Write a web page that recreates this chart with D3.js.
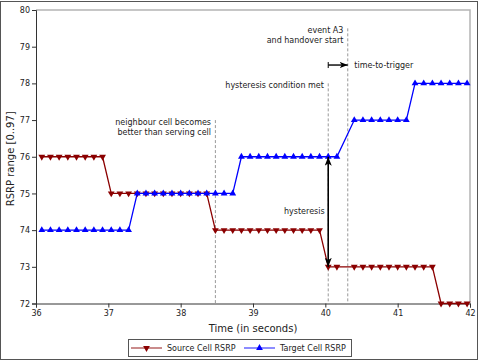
<!DOCTYPE html>
<html><head><meta http-equiv="Content-Type" content="text/html; charset=utf-8">
<script src="https://d3js.org/d3.v7.min.js"></script>
<style>
  body { margin: 0; background: #fff; }
  text { font-family: "DejaVu Sans", sans-serif; fill: #222; }
</style>
</head>
<body>
<div class="chart"></div>
<script type="text/javascript">

// sample times (s); the sample at 40.28 is absent in the source data
var times = [36.08, 36.20, 36.32, 36.44, 36.56, 36.68, 36.80, 36.92, 37.04, 37.16,
             37.28, 37.40, 37.52, 37.64, 37.76, 37.88, 38.00, 38.12, 38.24, 38.36,
             38.48, 38.60, 38.72, 38.84, 38.96, 39.08, 39.20, 39.32, 39.44, 39.56,
             39.68, 39.80, 39.92, 40.04, 40.16, 40.40, 40.52, 40.64, 40.76, 40.88,
             41.00, 41.12, 41.24, 41.36, 41.48, 41.60, 41.72, 41.84, 41.96];

var sourceRsrp = [76, 76, 76, 76, 76, 76, 76, 76, 75, 75,
                  75, 75, 75, 75, 75, 75, 75, 75, 75, 75,
                  74, 74, 74, 74, 74, 74, 74, 74, 74, 74,
                  74, 74, 74, 73, 73, 73, 73, 73, 73, 73,
                  73, 73, 73, 73, 73, 72, 72, 72, 72];

var targetRsrp = [74, 74, 74, 74, 74, 74, 74, 74, 74, 74,
                  74, 75, 75, 75, 75, 75, 75, 75, 75, 75,
                  75, 75, 75, 76, 76, 76, 76, 76, 76, 76,
                  76, 76, 76, 76, 76, 77, 77, 77, 77, 77,
                  77, 77, 78, 78, 78, 78, 78, 78, 78];

var xTicks = [36, 37, 38, 39, 40, 41, 42];
var yTicks = [72, 73, 74, 75, 76, 77, 78, 79, 80];

// event markers: time and top of the dashed line
var eventTimes = [38.48, 40.04, 40.31];
var eventTops  = [77, 78, 79.5];

var width = 480;
var height = 362;
var pLeft = 36, pRight = 470, pTop = 10, pBottom = 303.5;

var svg = d3.select("div.chart")
  .append("svg")
  .attr("width", width)
  .attr("height", height);

var x = d3.scaleLinear().domain([36, 42]).range([pLeft, pRight]);
var y = d3.scaleLinear().domain([72, 80]).range([pBottom, pTop]);

// outer frame of the picture
svg.append("rect")
  .attr("x", 0.5).attr("y", 1.5)
  .attr("width", 477).attr("height", 358)
  .style("fill", "none").style("stroke", "#555");

// gray top and right spines
svg.append("path")
  .attr("d", "M" + pLeft + "," + pTop + "H" + pRight + "V" + pBottom)
  .style("fill", "none").style("stroke", "#b4b4b4").style("stroke-width", 1.5);

// ----------------- AXES ------------------------------
var xAxis = svg.append("g")
  .attr("transform", "translate(0," + pBottom + ")")
  .call(d3.axisBottom(x).tickValues(xTicks).tickSize(4).tickPadding(3).tickFormat(d3.format("d")));

var yAxis = svg.append("g")
  .attr("transform", "translate(" + pLeft + ",0)")
  .call(d3.axisLeft(y).tickValues(yTicks).tickSize(4).tickPadding(2).tickFormat(d3.format("d")));

[xAxis, yAxis].forEach(function (a) {
  a.selectAll("path, line").style("stroke", "#333");
  a.selectAll("text").style("font-size", "8px").style("font-family", "DejaVu Sans").style("fill", "#222");
});

svg.append("text")
  .attr("x", (pLeft + pRight) / 2).attr("y", 332)
  .attr("text-anchor", "middle")
  .style("font-size", "10px")
  .text("Time (in seconds)");

svg.append("text")
  .attr("transform", "translate(14," + ((pTop + pBottom) / 2 + 2) + ")rotate(-90)")
  .attr("text-anchor", "middle")
  .style("font-size", "10px")
  .text("RSRP range [0..97]");

// ----------------- EVENT LINES ------------------------------
svg.selectAll("line.event")
  .data(eventTimes)
  .enter()
  .append("line")
  .attr("class", "event")
  .attr("x1", function (d) { return x(d); })
  .attr("x2", function (d) { return x(d); })
  .attr("y1", function (d, i) { return y(eventTops[i]); })
  .attr("y2", pBottom)
  .style("stroke", "#999")
  .style("stroke-width", 1)
  .style("stroke-dasharray", "3,2");

// ----------------- SERIES ------------------------------
var line = d3.line()
  .x(function (d) { return x(d[0]); })
  .y(function (d) { return y(d[1]); });

var sourcePts = times.map(function (t, i) { return [t, sourceRsrp[i]]; });
var targetPts = times.map(function (t, i) { return [t, targetRsrp[i]]; });

var tri = d3.symbol().type(d3.symbolTriangle).size(20);

function drawSeries(pts, color, flip) {
  svg.append("path")
    .datum(pts)
    .attr("d", line)
    .style("fill", "none")
    .style("stroke", color)
    .style("stroke-width", 1.3);

  svg.append("g").selectAll("path")
    .data(pts)
    .enter()
    .append("path")
    .attr("d", tri)
    .attr("transform", function (d) {
      return "translate(" + x(d[0]) + "," + y(d[1]) + ")" + (flip ? "rotate(180)" : "");
    })
    .style("fill", color);
}

drawSeries(sourcePts, "#8b0000", true);
drawSeries(targetPts, "#0000ff", false);

// ----------------- ANNOTATIONS ------------------------------
var defs = svg.append("defs");
function arrowHead(id, len, wid) {
  defs.append("marker")
    .attr("id", id)
    .attr("viewBox", "0 0 10 10")
    .attr("refX", 10).attr("refY", 5)
    .attr("markerWidth", len).attr("markerHeight", wid)
    .attr("markerUnits", "userSpaceOnUse")
    .attr("orient", "auto-start-reverse")
    .attr("preserveAspectRatio", "none")
    .append("path")
    .attr("d", "M0,0L10,5L0,10L2.5,5Z")
    .style("fill", "#000");
}
arrowHead("headBig", 9, 7);
arrowHead("headSmall", 8, 6);

// hysteresis double arrow
svg.append("line")
  .attr("x1", x(40.04)).attr("x2", x(40.04))
  .attr("y1", y(73)).attr("y2", y(76))
  .attr("marker-start", "url(#headBig)")
  .attr("marker-end", "url(#headBig)")
  .style("stroke", "#000").style("stroke-width", 1.6);

// time-to-trigger arrow
svg.append("line")
  .attr("x1", x(40.04)).attr("x2", x(40.31))
  .attr("y1", y(78.5)).attr("y2", y(78.5))
  .attr("marker-end", "url(#headSmall)")
  .style("stroke", "#000").style("stroke-width", 1.4);
svg.append("line")
  .attr("x1", x(40.04)).attr("x2", x(40.04))
  .attr("y1", y(78.5) - 3).attr("y2", y(78.5) + 3)
  .style("stroke", "#000").style("stroke-width", 1);

function note(lines, tx, vy, anchor) {
  var t = svg.append("text")
    .attr("x", x(tx)).attr("y", y(vy))
    .attr("text-anchor", anchor)
    .style("font-size", "8px");
  lines.forEach(function (s, i) {
    t.append("tspan").attr("x", x(tx)).attr("dy", i === 0 ? 0 : 9.7).text(s);
  });
}

note(["neighbour cell becomes", "better than serving cell"], 38.42, 76.86, "end");
note(["hysteresis condition met"], 39.98, 77.88, "end");
note(["event A3", "and handover start"], 40.25, 79.37, "end");
note(["time-to-trigger"], 40.4, 78.42, "start");
note(["hysteresis"], 39.99, 74.45, "end");

// ----------------- LEGEND ------------------------------
var legend = svg.append("g");
legend.append("rect")
  .attr("x", 128.5).attr("y", 339.5)
  .attr("width", 223).attr("height", 17)
  .style("fill", "#fff").style("stroke", "#555");

var legendItems = [
  { label: "Source Cell RSRP", color: "#8b0000", flip: true, x0: 131 },
  { label: "Target Cell RSRP", color: "#0000ff", flip: false, x0: 244 }
];
legendItems.forEach(function (d) {
  legend.append("line")
    .attr("x1", d.x0).attr("x2", d.x0 + 31)
    .attr("y1", 348).attr("y2", 348)
    .style("stroke", d.color).style("stroke-width", 1.5).style("opacity", 0.6);
  legend.append("path")
    .attr("d", tri)
    .attr("transform", "translate(" + (d.x0 + 15.5) + ",348)" + (d.flip ? "rotate(180)" : ""))
    .style("fill", d.color);
  legend.append("text")
    .attr("x", d.x0 + 36).attr("y", 351)
    .style("font-size", "8px")
    .text(d.label);
});

</script>
</body></html>
